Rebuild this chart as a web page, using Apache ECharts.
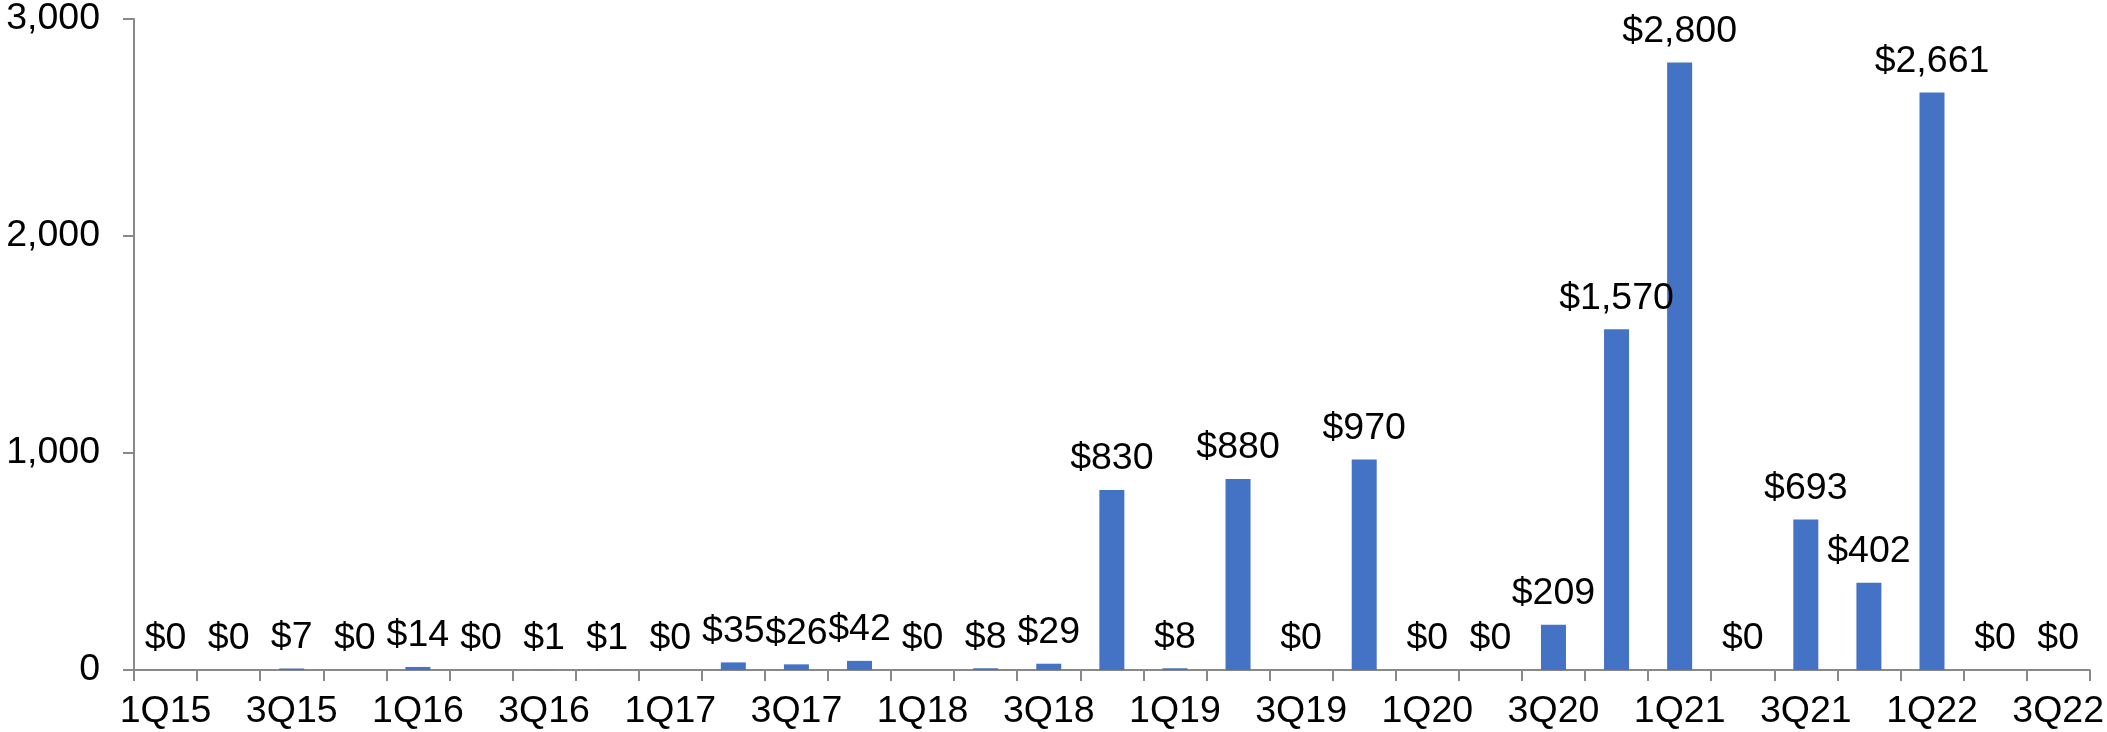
<!DOCTYPE html>
<html>
<head>
<meta charset="utf-8">
<script src="https://cdn.jsdelivr.net/npm/echarts@6/dist/echarts.min.js"></script>
<style>
  html, body { margin: 0; padding: 0; background: #fff; }
  #chart { width: 2107px; height: 732px; }
</style>
</head>
<body>
<div id="chart"></div>
<script>
  const quarters = [
    '1Q15', '2Q15', '3Q15', '4Q15',
    '1Q16', '2Q16', '3Q16', '4Q16',
    '1Q17', '2Q17', '3Q17', '4Q17',
    '1Q18', '2Q18', '3Q18', '4Q18',
    '1Q19', '2Q19', '3Q19', '4Q19',
    '1Q20', '2Q20', '3Q20', '4Q20',
    '1Q21', '2Q21', '3Q21', '4Q21',
    '1Q22', '2Q22', '3Q22'
  ];
  const amounts = [
    0, 0, 7, 0,
    14, 0, 1, 1,
    0, 35, 26, 42,
    0, 8, 29, 830,
    8, 880, 0, 970,
    0, 0, 209, 1570,
    2800, 0, 693, 402,
    2661, 0, 0
  ];
  const yTicks = [0, 1000, 2000, 3000];

  const fontFamily = '"Liberation Sans", Arial, sans-serif';
  const axisGrey = '#898989';

  const chart = echarts.init(document.getElementById('chart'));
  chart.setOption({
    animation: false,
    grid: { left: 134, right: 15, top: 18, bottom: 62 },
    xAxis: {
      type: 'category',
      data: quarters,
      boundaryGap: true,
      axisLine: { lineStyle: { color: axisGrey, width: 2 } },
      axisTick: { show: true, interval: 0, length: 11, lineStyle: { color: axisGrey, width: 2 } },
      axisLabel: {
        interval: 1,
        margin: 23,
        color: '#000',
        fontSize: 37.5,
        fontFamily: fontFamily
      }
    },
    yAxis: {
      type: 'value',
      min: yTicks[0],
      max: yTicks[yTicks.length - 1],
      interval: 1000,
      splitLine: { show: false },
      axisLine: { show: true, lineStyle: { color: axisGrey, width: 2 } },
      axisTick: { show: true, length: 11, lineStyle: { color: axisGrey, width: 2 } },
      axisLabel: {
        margin: 34,
        color: '#000',
        fontSize: 37.5,
        fontFamily: fontFamily,
        formatter: v => v.toLocaleString('en-US')
      }
    },
    series: [
      {
        type: 'bar',
        data: amounts,
        barWidth: 25,
        itemStyle: { color: '#4472C4' },
        label: {
          show: true,
          position: 'top',
          distance: 12,
          color: '#000',
          fontSize: 37.5,
          fontFamily: fontFamily,
          formatter: p => '$' + p.value.toLocaleString('en-US')
        }
      }
    ]
  });
</script>
</body>
</html>
